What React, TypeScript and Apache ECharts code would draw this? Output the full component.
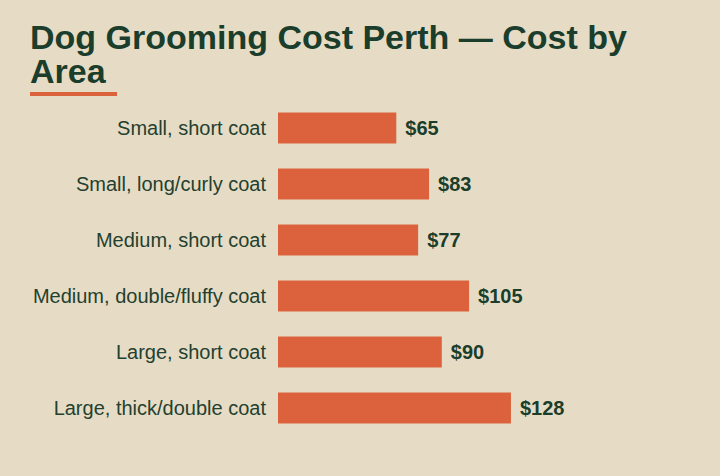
import React, { useEffect, useRef } from "react";
import * as echarts from "echarts";

const categories = [
    "Small, short coat",
    "Small, long/curly coat",
    "Medium, short coat",
    "Medium, double/fluffy coat",
    "Large, short coat",
    "Large, thick/double coat",
];
const costs = [65, 83, 77, 105, 90, 128];

const BG = "#e6dcc5";
const INK = "#1b3d2b";
const BAR = "#dc623e";
const FONT = "Liberation Sans, Arial, sans-serif";

const App: React.FC = () => {
    const ref = useRef<HTMLDivElement>(null);

    useEffect(() => {
        document.body.style.margin = "0";
        if (!ref.current) return;
        const chart = echarts.init(ref.current, null, { renderer: "svg" });

        chart.setOption({
            animation: false,
            backgroundColor: BG,
            title: {
                text: "Dog Grooming Cost Perth — Cost by\nArea",
                left: 30,
                top: 20,
                padding: 0,
                textStyle: {
                    fontFamily: FONT,
                    fontSize: 34,
                    fontWeight: "bold",
                    color: INK,
                    lineHeight: 34,
                },
            },
            graphic: [
                {
                    type: "rect",
                    left: 30,
                    top: 92,
                    shape: { width: 87, height: 4 },
                    style: { fill: BAR },
                },
            ],
            grid: { left: 278, top: 100, height: 336, width: 364 },
            xAxis: {
                type: "value",
                min: 0,
                max: 200,
                show: false,
            },
            yAxis: {
                type: "category",
                data: categories,
                inverse: true,
                axisLine: { show: false },
                axisTick: { show: false },
                axisLabel: {
                    margin: 12,
                    fontSize: 20,
                    color: "#24402f",
                    fontFamily: FONT,
                },
            },
            series: [
                {
                    type: "bar",
                    data: costs,
                    barWidth: 31,
                    itemStyle: { color: BAR },
                    label: {
                        show: true,
                        position: "right",
                        distance: 9,
                        formatter: (p: any) => "$" + p.value,
                        fontSize: 20,
                        fontWeight: "bold",
                        color: INK,
                        fontFamily: FONT,
                    },
                },
            ],
        });

        return () => {
            chart.dispose();
        };
    }, []);

    return <div ref={ref} style={{ width: 720, height: 476 }} />;
};

export default App;
